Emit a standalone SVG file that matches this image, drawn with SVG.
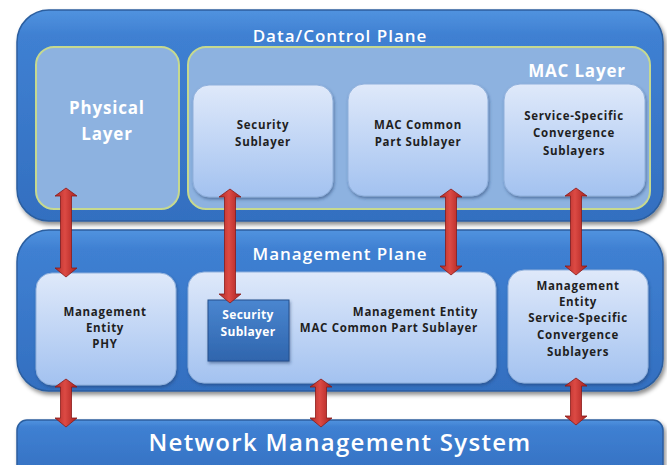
<svg xmlns="http://www.w3.org/2000/svg" width="667" height="465" viewBox="0 0 667 465">
<defs>
<linearGradient id="plane" x1="0" y1="0" x2="0" y2="1">
<stop offset="0" stop-color="#5193df"/>
<stop offset="0.12" stop-color="#3f80d2"/>
<stop offset="1" stop-color="#336fc0"/>
</linearGradient>
<linearGradient id="light" x1="0" y1="0" x2="0" y2="1">
<stop offset="0" stop-color="#dfe9fa"/>
<stop offset="1" stop-color="#a3c2f0"/>
</linearGradient>
<linearGradient id="dark" x1="0" y1="0" x2="0" y2="1">
<stop offset="0" stop-color="#4a86d0"/>
<stop offset="1" stop-color="#2f65ad"/>
</linearGradient>
<linearGradient id="red" x1="0" y1="0" x2="1" y2="0">
<stop offset="0" stop-color="#b02a26"/>
<stop offset="0.45" stop-color="#dc4a44"/>
<stop offset="1" stop-color="#a8201e"/>
</linearGradient>
<filter id="sh" x="-5%" y="-5%" width="112%" height="120%">
<feDropShadow dx="2" dy="3" stdDeviation="2" flood-color="#000" flood-opacity="0.45"/>
</filter>
<filter id="sh2" x="-10%" y="-10%" width="125%" height="130%">
<feDropShadow dx="1" dy="2" stdDeviation="1.5" flood-color="#1a3a6a" flood-opacity="0.5"/>
</filter>
</defs>
<style>
.plane{fill:url(#plane);stroke:#2c5e9f;stroke-width:1.5;filter:url(#sh)}
.layer{fill:#8db2e0;stroke:#c6d98f;stroke-width:2}
.sub{fill:url(#light);stroke:#8fb0dc;stroke-width:1;filter:url(#sh2)}
.sec{fill:url(#dark);stroke:#244f8c;stroke-width:1;filter:url(#sh2)}
.title{font-family:"Open Sans","Liberation Sans",sans-serif;fill:#fff;font-size:17px;font-weight:600;letter-spacing:1px;text-anchor:middle}
.wb{font-family:"Open Sans","Liberation Sans",sans-serif;fill:#fff;font-weight:bold;text-anchor:middle}
.lbl{font-family:"Open Sans","Liberation Sans",sans-serif;fill:#1f1f1f;font-weight:bold;font-size:11.5px;letter-spacing:0.7px;text-anchor:middle}
.arrow{fill:url(#red);stroke:#8a1a18;stroke-width:0.8}
</style>

<g id="data-control-plane">
<rect class="plane" x="17" y="10" width="646" height="211" rx="32"/>
<text class="title" x="340" y="42">Data/Control Plane</text>
</g>
<g id="physical-layer">
<rect class="layer" x="36" y="47" width="143" height="162" rx="18"/>
<text class="wb" x="107" y="114" font-size="17" letter-spacing="0.8">Physical</text>
<text class="wb" x="107" y="140" font-size="17" letter-spacing="0.8">Layer</text>
</g>
<g id="mac-layer">
<rect class="layer" x="188" y="47" width="462" height="162" rx="18"/>
<text class="wb" x="577" y="77" font-size="17" letter-spacing="0.8">MAC Layer</text>
</g>
<g id="security-sublayer">
<rect class="sub" x="193" y="85" width="140" height="112" rx="16"/>
<text class="lbl" x="263" y="129">Security</text>
<text class="lbl" x="263" y="146">Sublayer</text>
</g>
<g id="mac-cps">
<rect class="sub" x="348" y="84" width="140" height="112" rx="16"/>
<text class="lbl" x="418" y="129">MAC Common</text>
<text class="lbl" x="418" y="146">Part Sublayer</text>
</g>
<g id="sscs">
<rect class="sub" x="504" y="84" width="141" height="112" rx="16"/>
<text class="lbl" x="574" y="120">Service-Specific</text>
<text class="lbl" x="574" y="137">Convergence</text>
<text class="lbl" x="574" y="155">Sublayers</text>
</g>

<g id="management-plane">
<rect class="plane" x="17" y="230" width="646" height="161" rx="32"/>
<text class="title" x="340" y="260">Management Plane</text>
</g>
<g id="me-phy">
<rect class="sub" x="36" y="273" width="140" height="112" rx="16"/>
<text class="lbl" x="105" y="316">Management</text>
<text class="lbl" x="105" y="332">Entity</text>
<text class="lbl" x="105" y="348">PHY</text>
</g>
<g id="me-mac-cps">
<rect class="sub" x="188" y="272" width="308" height="111" rx="16"/>
<text class="lbl" x="478" y="316" style="text-anchor:end">Management Entity</text>
<text class="lbl" x="478" y="332" style="text-anchor:end">MAC Common Part Sublayer</text>
</g>
<g id="me-security-sublayer">
<rect class="sec" x="208" y="300" width="81" height="61"/>
<text class="wb" x="248" y="319" font-size="12" letter-spacing="0.3">Security</text>
<text class="wb" x="248" y="336" font-size="12" letter-spacing="0.3">Sublayer</text>
</g>
<g id="me-sscs">
<rect class="sub" x="508" y="270" width="140" height="113" rx="16"/>
<text class="lbl" x="578" y="290">Management</text>
<text class="lbl" x="578" y="306">Entity</text>
<text class="lbl" x="578" y="322">Service-Specific</text>
<text class="lbl" x="578" y="339">Convergence</text>
<text class="lbl" x="578" y="356">Sublayers</text>
</g>

<g id="network-management-system">
<rect class="plane" x="17" y="420" width="646" height="60" rx="10"/>
<text class="title" x="340" y="451" style="font-size:24px;letter-spacing:1.3px">Network Management System</text>
</g>

<g id="connectors">
<path class="arrow" d="M66,188 L77,196 L71.5,196 L71.5,268 L77,268 L66,277 L55,268 L60.5,268 L60.5,196 L55,196 Z"/>
<path class="arrow" d="M230,189 L241,197 L235.5,197 L235.5,294 L241,294 L230,303 L219,294 L224.5,294 L224.5,197 L219,197 Z"/>
<path class="arrow" d="M451,189 L462,197 L456.5,197 L456.5,266 L462,266 L451,275 L440,266 L445.5,266 L445.5,197 L440,197 Z"/>
<path class="arrow" d="M576,188 L587,196 L581.5,196 L581.5,266 L587,266 L576,275 L565,266 L570.5,266 L570.5,196 L565,196 Z"/>
<path class="arrow" d="M66,379 L77,387 L71.5,387 L71.5,418 L77,418 L66,427 L55,418 L60.5,418 L60.5,387 L55,387 Z"/>
<path class="arrow" d="M321,379 L332,387 L326.5,387 L326.5,418 L332,418 L321,427 L310,418 L315.5,418 L315.5,387 L310,387 Z"/>
<path class="arrow" d="M576,378 L587,386 L581.5,386 L581.5,416 L587,416 L576,425 L565,416 L570.5,416 L570.5,386 L565,386 Z"/>
</g>
</svg>
